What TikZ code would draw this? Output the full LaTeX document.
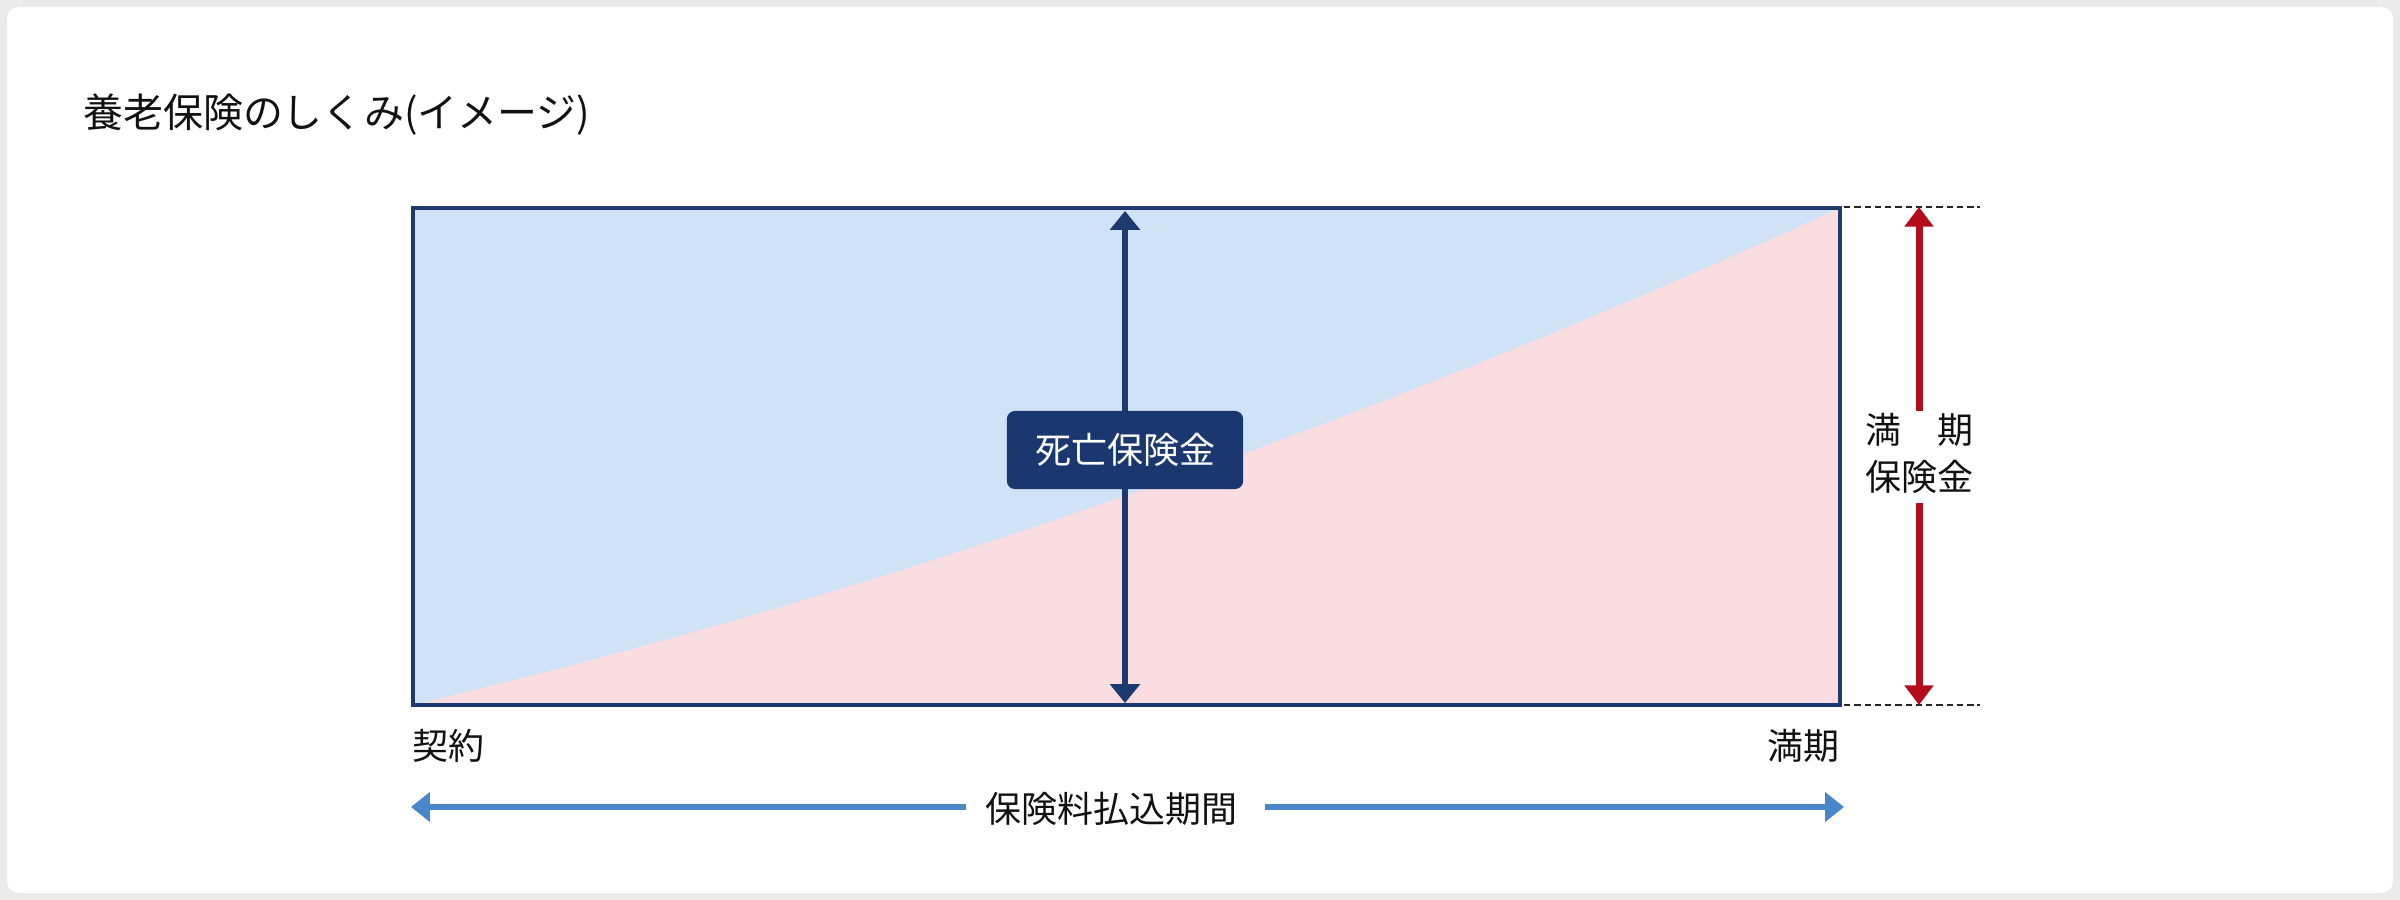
\documentclass[tikz,border=0pt]{standalone}
\usepackage{fontspec}
\newfontfamily\jp{Noto Sans CJK JP}
\usetikzlibrary{arrows.meta}
\definecolor{framegray}{HTML}{EBEBEB}
\definecolor{navy}{HTML}{1D3A6E}
\definecolor{boxnavy}{HTML}{1B3770}
\definecolor{fillblue}{HTML}{D0E3F6}
\definecolor{fillpink}{HTML}{F9DDE0}
\definecolor{redarr}{HTML}{B30D1B}
\definecolor{bluearr}{HTML}{4A87C9}
\definecolor{txt}{HTML}{111111}
\tikzset{
  lbl/.style={inner sep=0pt, text=txt, font=\jp\fontsize{25.6pt}{30pt}\selectfont},
  titlelbl/.style={inner sep=0pt, text=txt, font=\jp\fontsize{28.4pt}{32pt}\selectfont},
  navyarrow/.style={draw=navy, line width=3.9pt, -{Triangle[width=21pt,length=13.5pt]}},
  redarrow/.style={draw=redarr, line width=5pt, -{Triangle[width=20pt,length=14pt]}},
  bluearrow/.style={draw=bluearr, line width=4.3pt, -{Triangle[width=20.6pt,length=13.5pt]}},
  guide/.style={draw=black!85, line width=1pt, dash pattern=on 4.5pt off 2.8pt},
  deathbox/.style={fill=boxnavy, rounded corners=5.7pt, minimum width=168pt, minimum height=55.5pt, inner sep=0pt, text=white, font=\jp\fontsize{25.6pt}{30pt}\selectfont}
}
\begin{document}
\begin{tikzpicture}[x=0.025cm, y=-0.025cm]
\useasboundingbox (0,0) rectangle (2400,900);
\fill[framegray] (0,0) rectangle (2400,900);
\fill[white, rounded corners=8.5pt] (7,7) rectangle (2393,893);

% title
\node[titlelbl, anchor=west] (title) at (83,115) {養老保険のしくみ(イメージ)};

% chart area
\coordinate (bl) at (413,705);
\coordinate (tr) at (1840,208);
\fill[fillblue] (bl) rectangle (tr);
\fill[fillpink] (bl) .. controls (887,592) and (1363,426) .. (tr) -- (1840,705) -- cycle;
\draw[navy, line width=2.5pt] (bl) rectangle (tr);

% death benefit arrow
\node[deathbox] (death) at (1125,450) {死亡保険金};
\coordinate (dtop) at (1125,211);
\coordinate (dbot) at (1125,703);
\draw[navyarrow] (death.north) -- (dtop);
\draw[navyarrow] (death.south) -- (dbot);

% maturity guides
\coordinate (g1a) at (1844,207);
\coordinate (g1b) at (1980,207);
\coordinate (g2a) at (1844,705);
\coordinate (g2b) at (1980,705);
\draw[guide] (g1a) -- (g1b);
\draw[guide] (g2a) -- (g2b);

% maturity benefit arrow
\node[lbl] (m1) at (1919,430) {満　期};
\node[lbl] (m2) at (1919,477) {保険金};
\coordinate (ra) at (1919,411);
\coordinate (rb) at (1919,503);
\coordinate (rt) at (1919,207);
\coordinate (rbt) at (1919,705);
\draw[redarrow] (ra) -- (rt);
\draw[redarrow] (rb) -- (rbt);

% axis labels
\node[lbl, anchor=west] (start) at (412,746) {契約};
\node[lbl, anchor=east] (end) at (1840,746) {満期};

% premium period arrow
\node[lbl] (period) at (1111,809) {保険料払込期間};
\coordinate (pl) at (411,807);
\coordinate (pr) at (1844,807);
\coordinate (gl) at (966,807);
\coordinate (gr) at (1265,807);
\draw[bluearrow] (gl) -- (pl);
\draw[bluearrow] (gr) -- (pr);
\end{tikzpicture}
\end{document}
